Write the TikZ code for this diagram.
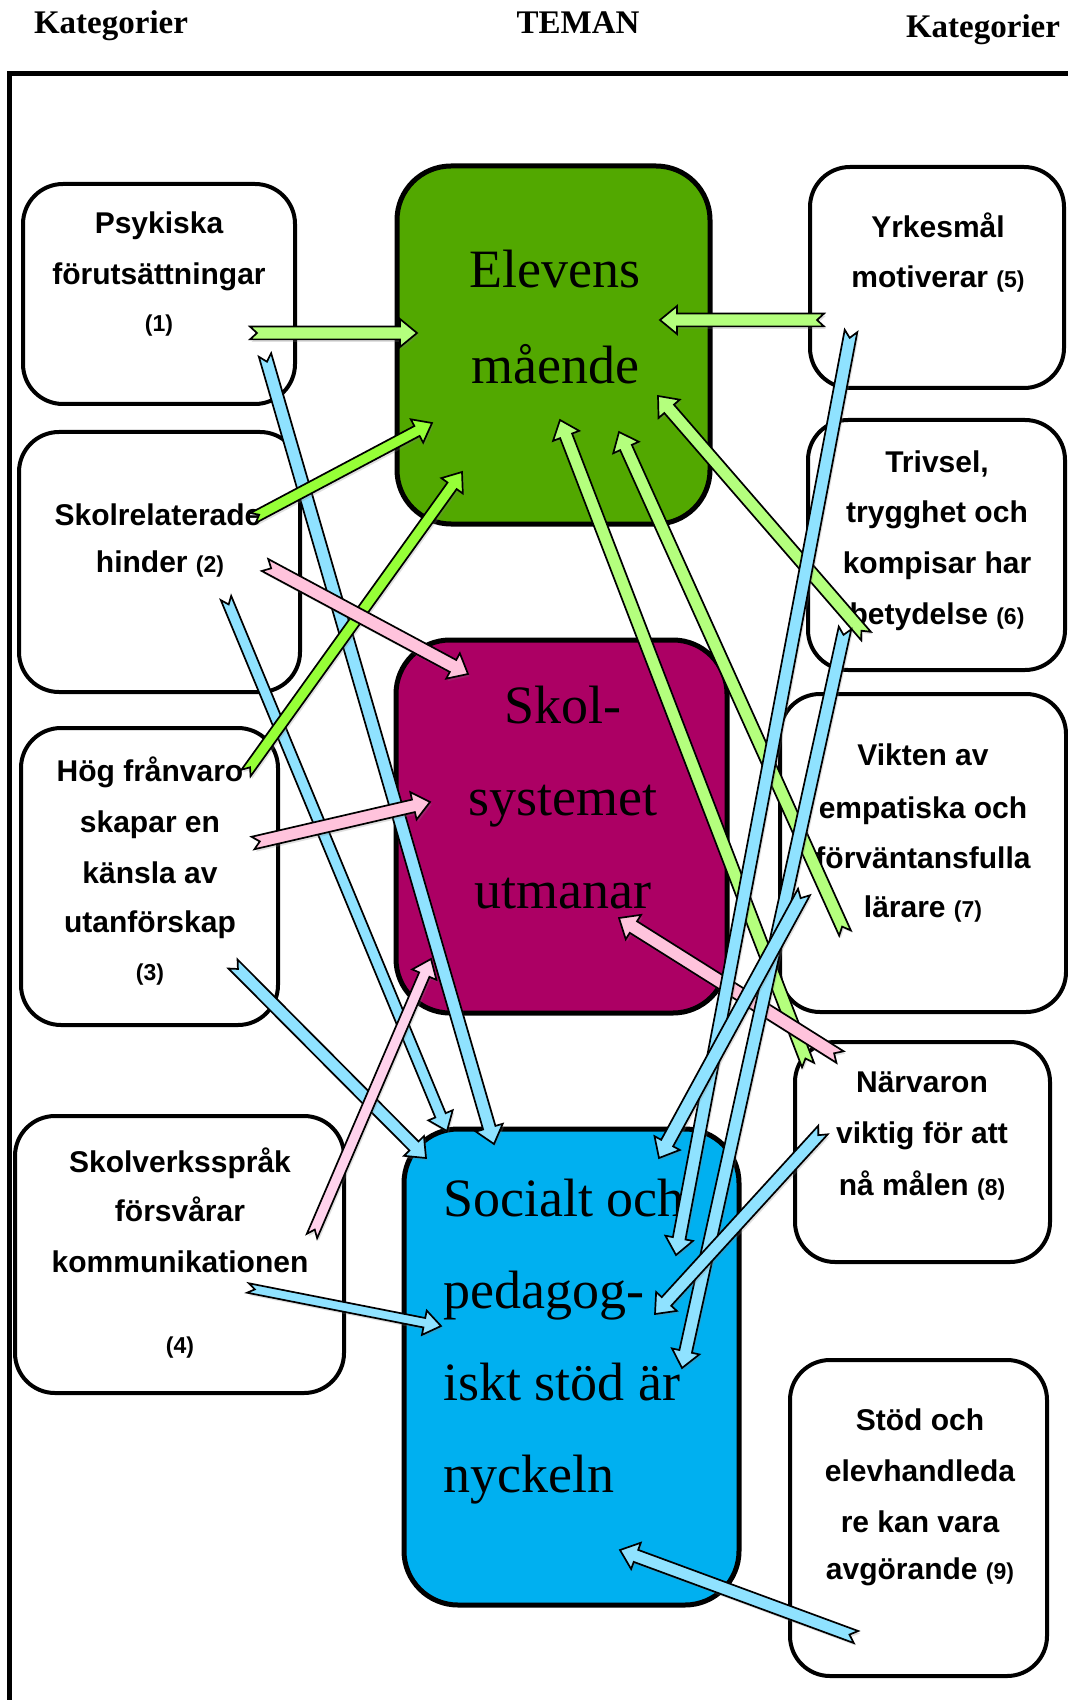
\documentclass[tikz,border=0pt]{standalone}
\usepackage{fontspec}
\setmainfont{Liberation Serif}
\setsansfont{Liberation Sans}
\usetikzlibrary{calc,shadows}
\definecolor{elevgreen}{RGB}{82,168,0}
\definecolor{skolpurple}{RGB}{172,0,100}
\definecolor{socblue}{RGB}{0,176,240}
\definecolor{lgreen}{RGB}{180,255,125}
\definecolor{bgreen}{RGB}{150,255,55}
\definecolor{apink}{RGB}{255,195,220}
\definecolor{lpink}{RGB}{255,210,236}
\definecolor{ablue}{RGB}{143,226,255}
\newcommand\nm[1]{{\fontsize{11.5}{11.5}\selectfont #1}}
\newcommand\blkarrow[4]{%
  \pgfmathsetmacro\bhw{#2+3.8}%
  \coordinate (hb) at ($(#4)!8.5pt!(#3)$);
  \coordinate (nt) at ($(#3)!3.5pt!(#4)$);
  \draw[arr, fill=#1] ($(#3)!#2pt!90:(#4)$) -- ($(hb)!#2pt!90:(#4)$) -- ($(hb)!\bhw pt!90:(#4)$) -- (#4) -- ($(hb)!\bhw pt!-90:(#4)$) -- ($(hb)!#2pt!-90:(#4)$) -- ($(#3)!#2pt!-90:(#4)$) -- (nt) -- cycle;
}
\begin{document}
\begin{tikzpicture}[x=0.5pt,y=-0.5pt,
  catbox/.style={draw=black, line width=2pt, rounded corners=20pt, fill=white, inner sep=0pt, outer sep=0pt},
  themebox/.style={draw=black, line width=2.5pt, rounded corners=27pt, inner sep=0pt, outer sep=0pt},
  ctext/.style={font=\fontsize{15}{15}\selectfont\sffamily\bfseries, anchor=base, inner sep=0pt},
  ttext/.style={font=\fontsize{27}{27}\selectfont, anchor=base, inner sep=0pt},
  head/.style={font=\fontsize{16.5}{16.5}\selectfont\bfseries, anchor=base, inner sep=0pt},
  arr/.style={draw=black, line width=0.85pt, line join=miter, drop shadow={opacity=0.25, shadow xshift=0.8pt, shadow yshift=-1.2pt}}
]
\useasboundingbox (0,0) rectangle (1068,1700);
\clip (0,0) rectangle (1068,1700);
\fill[white] (0,0) rectangle (1068,1700);

% headings
\node[head] (h1) at (111,34) {Kategorier};
\node[head] (h2) at (578,34) {TEMAN};
\node[head] (h3) at (983,38) {Kategorier};

% frame
\draw[line width=2.5pt] (9,1760) -- (9,74) -- (1120,74);

% category boxes
\node[catbox, minimum width=136pt, minimum height=110pt] (k1) at (159,294) {};
\node[catbox, minimum width=140.5pt, minimum height=130pt] (k2) at (159.5,562) {};
\node[catbox, minimum width=128.5pt, minimum height=148.5pt] (k3) at (149.5,876.5) {};
\node[catbox, minimum width=164.5pt, minimum height=138.5pt] (k4) at (179.5,1254.5) {};
\node[catbox, minimum width=127pt, minimum height=110.5pt] (k5) at (937,277.5) {};
\node[catbox, minimum width=128.5pt, minimum height=125pt] (k6) at (936.5,545) {};
\node[catbox, minimum width=143pt, minimum height=159pt] (k7) at (923,853) {};
\node[catbox, minimum width=127.5pt, minimum height=110pt] (k8) at (922.5,1152) {};
\node[catbox, minimum width=128.5pt, minimum height=158pt] (k9) at (918.5,1518) {};

% theme boxes
\node[themebox, fill=elevgreen, minimum width=156.5pt, minimum height=179pt] (t1) at (553.5,345) {};
\node[themebox, fill=skolpurple, minimum width=165.5pt, minimum height=186.5pt] (t2) at (561.5,826.5) {};
\node[themebox, fill=socblue, minimum width=167.5pt, minimum height=238pt] (t3) at (571.5,1367) {};

% theme texts
\node[ttext] (t1a) at (555,288) {Elevens};
\node[ttext] (t1b) at (555,384) {mående};
\node[ttext] (t2a) at (563,723) {Skol-};
\node[ttext] (t2b) at (563,815) {systemet};
\node[ttext] (t2c) at (563,908) {utmanar};
\node[ttext, anchor=base west] (t3a) at (443,1216) {Socialt och};
\node[ttext, anchor=base west] (t3b) at (443,1308) {pedagog-};
\node[ttext, anchor=base west] (t3c) at (443,1400) {iskt stöd är};
\node[ttext, anchor=base west] (t3d) at (443,1492) {nyckeln};

% category texts
\node[ctext] (c1a) at (159,234) {Psykiska};
\node[ctext] (c1b) at (159,285) {förutsättningar};
\node[ctext] (c1c) at (159,332) {\nm{(1)}};
\node[ctext] (c2a) at (158,525) {Skolrelaterade};
\node[ctext] (c2b) at (160,572) {hinder \nm{(2)}};
\node[ctext] (c3a) at (150,781) {Hög frånvaro};
\node[ctext] (c3b) at (150,832) {skapar en};
\node[ctext] (c3c) at (150,883) {känsla av};
\node[ctext] (c3d) at (150,932) {utanförskap};
\node[ctext] (c3e) at (150,980) {\nm{(3)}};
\node[ctext] (c4a) at (180,1172) {Skolverksspråk};
\node[ctext] (c4b) at (180,1221) {försvårar};
\node[ctext] (c4c) at (180,1272) {kommunikationen};
\node[ctext] (c4d) at (180,1353) {\nm{(4)}};
\node[ctext] (c5a) at (938,238) {Yrkesmål};
\node[ctext] (c5b) at (938,288) {motiverar \nm{(5)}};
\node[ctext] (c6a) at (937,473) {Trivsel,};
\node[ctext] (c6b) at (937,522) {trygghet och};
\node[ctext] (c6c) at (937,573) {kompisar har};
\node[ctext] (c6d) at (937,624) {betydelse \nm{(6)}};
\node[ctext] (c7a) at (923,765) {Vikten av};
\node[ctext] (c7b) at (923,818) {empatiska och};
\node[ctext] (c7c) at (923,868) {förväntansfulla};
\node[ctext] (c7d) at (923,917) {lärare \nm{(7)}};
\node[ctext] (c8a) at (922,1092) {Närvaron};
\node[ctext] (c8b) at (922,1143) {viktig för att};
\node[ctext] (c8c) at (922,1195) {nå målen \nm{(8)}};
\node[ctext] (c9a) at (920,1430) {Stöd och};
\node[ctext] (c9b) at (920,1481) {elevhandleda};
\node[ctext] (c9c) at (920,1532) {re kan vara};
\node[ctext] (c9d) at (920,1579) {avgörande \nm{(9)}};

% arrow end points
\coordinate (g1s) at (250,333);  \coordinate (g1e) at (417,333);
\coordinate (g2s) at (253,518);  \coordinate (g2e) at (432,423);
\coordinate (g3s) at (246,773);  \coordinate (g3e) at (462,472);
\coordinate (g4s) at (824,320);  \coordinate (g4e) at (660,320);
\coordinate (g5s) at (866,636);  \coordinate (g5e) at (658,396);
\coordinate (g6s) at (845,933);  \coordinate (g6e) at (619,432);
\coordinate (g7s) at (808,1065); \coordinate (g7e) at (560,420);
\coordinate (p1s) at (265,565);  \coordinate (p1e) at (468,674);
\coordinate (p2s) at (253,843);  \coordinate (p2e) at (430,802);
\coordinate (p3s) at (312,1236); \coordinate (p3e) at (431,959);
\coordinate (p4s) at (840,1057); \coordinate (p4e) at (619,918);
\coordinate (b1s) at (265,355);  \coordinate (b1e) at (494,1144);
\coordinate (b2s) at (226,598);  \coordinate (b2e) at (447,1131);
\coordinate (b3s) at (233,964);  \coordinate (b3e) at (426,1158);
\coordinate (b4s) at (248,1288); \coordinate (b4e) at (441,1326);
\coordinate (b5s) at (851,331);  \coordinate (b5e) at (676,1255);
\coordinate (b6s) at (845,628);  \coordinate (b6e) at (682,1368);
\coordinate (b7s) at (804,892);  \coordinate (b7e) at (659,1158);
\coordinate (b8s) at (823,1130); \coordinate (b8e) at (655,1314);
\coordinate (b9s) at (856,1637); \coordinate (b9e) at (620,1550);

% arrows
\blkarrow{ablue}{3.2}{b1s}{b1e}
\blkarrow{ablue}{2.8}{b2s}{b2e}
\blkarrow{ablue}{3.2}{b3s}{b3e}
\blkarrow{ablue}{2.4}{b4s}{b4e}
\blkarrow{lgreen}{3.2}{g1s}{g1e}
\blkarrow{bgreen}{2.8}{g2s}{g2e}
\blkarrow{bgreen}{2.8}{g3s}{g3e}
\blkarrow{apink}{3.4}{p1s}{p1e}
\blkarrow{apink}{3.2}{p2s}{p2e}
\blkarrow{lpink}{2.8}{p3s}{p3e}
\blkarrow{lgreen}{3.2}{g4s}{g4e}
\blkarrow{lgreen}{3.2}{g5s}{g5e}
\blkarrow{lgreen}{3.2}{g6s}{g6e}
\blkarrow{lgreen}{3.2}{g7s}{g7e}
\blkarrow{apink}{3.4}{p4s}{p4e}
\blkarrow{ablue}{3.2}{b5s}{b5e}
\blkarrow{ablue}{3.2}{b6s}{b6e}
\blkarrow{ablue}{3.4}{b7s}{b7e}
\blkarrow{ablue}{3.2}{b8s}{b8e}
\blkarrow{ablue}{3.2}{b9s}{b9e}
\end{tikzpicture}
\end{document}
